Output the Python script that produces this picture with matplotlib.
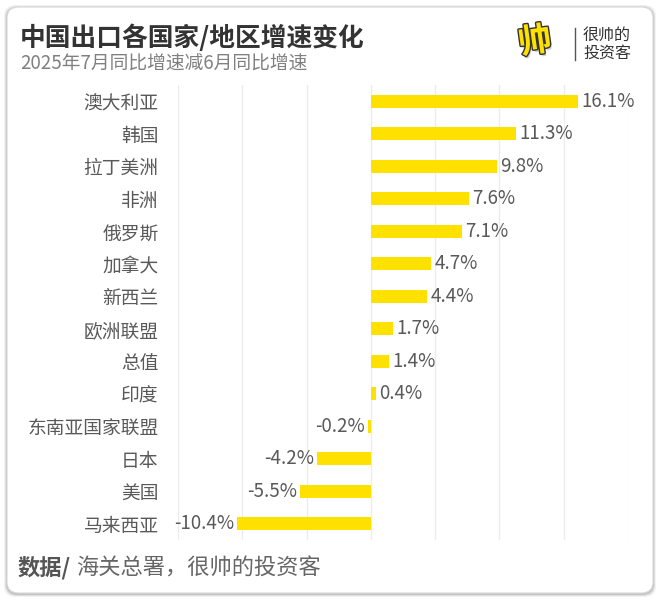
import matplotlib.pyplot as plt
import matplotlib.patheffects as pe
from matplotlib.patches import FancyBboxPatch
from matplotlib.lines import Line2D

plt.rcParams['font.family'] = ['Noto Sans CJK SC', 'DejaVu Sans']

categories = ["澳大利亚", "韩国", "拉丁美洲", "非洲", "俄罗斯", "加拿大", "新西兰",
              "欧洲联盟", "总值", "印度", "东南亚国家联盟", "日本", "美国", "马来西亚"]
values = [16.1, 11.3, 9.8, 7.6, 7.1, 4.7, 4.4, 1.7, 1.4, 0.4, -0.2, -4.2, -5.5, -10.4]
xticks = [-15, -10, -5, 0, 5, 10, 15, 20]

W, H = 660, 601
fig = plt.figure(figsize=(W / 100, H / 100), dpi=100)
fig.patch.set_facecolor("white")

# card with soft shadow
def px_box(x0, y0, x1, y1, **kw):
    return FancyBboxPatch((x0 / W, 1 - y1 / H), (x1 - x0) / W, (y1 - y0) / H,
                          boxstyle="round,pad=0,rounding_size=0.018",
                          transform=fig.transFigure, zorder=-10, **kw)

for i, a in enumerate([0.05, 0.08, 0.12]):
    d = 3 - i
    fig.patches.append(px_box(7 - d, 7 - d + 1, 653 + d, 593 + d + 1,
                              facecolor="#000000", edgecolor="none", alpha=a))
fig.patches.append(px_box(7, 7, 653, 593, facecolor="white", edgecolor="#d9d9d9", lw=0.8))

ax = fig.add_axes([178 / W, 1 - 540 / H, (628 - 178) / W, (540 - 85) / H])
ax.set_zorder(5)
ax.set_facecolor("none")
ypos = list(range(len(categories)))
ax.barh(ypos, values, height=0.4, color="#FFE100", zorder=3)
ax.set_ylim(len(categories) - 0.5, -0.5)
ax.set_xlim(-15, 20)
ax.set_xticks(xticks)
ax.xaxis.grid(True, color="#ebebeb", lw=0.9, zorder=0)
ax.tick_params(axis="x", length=0, labelbottom=False)
ax.set_yticks(ypos)
ax.set_yticklabels(categories, fontsize=13.5, color="#595959")
ax.tick_params(axis="y", length=0, pad=14)
for s in ax.spines.values():
    s.set_visible(False)

for y, v in zip(ypos, values):
    if v >= 0:
        ax.text(v + 0.25, y, f"{v:.1f}%", va="center", ha="left",
                fontsize=13.5, color="#595959", zorder=4)
    else:
        ax.text(v - 0.25, y, f"{v:.1f}%", va="center", ha="right",
                fontsize=13.5, color="#595959", zorder=4)

# titles
fig.text(20 / W, 1 - 38 / H, "中国出口各国家/地区增速变化", fontsize=18.5,
         fontweight="bold", color="#333333", va="center", ha="left")
fig.text(20 / W, 1 - 64 / H, "2025年7月同比增速减6月同比增速", fontsize=13.5,
         color="#808080", va="center", ha="left")

# logo
fig.text(537 / W, 1 - 44 / H, "帅", fontsize=24, fontweight="bold", color="#cccccc",
         va="center", ha="center", rotation=8)
fig.text(535 / W, 1 - 42 / H, "帅", fontsize=24, fontweight="bold", color="#FFE100",
         va="center", ha="center", rotation=8,
         path_effects=[pe.withStroke(linewidth=2, foreground="#333333")])
fig.lines.append(Line2D([575 / W, 575 / W], [1 - 28 / H, 1 - 60 / H],
                        transform=fig.transFigure, color="#555555", lw=1))
fig.text(583 / W, 1 - 35 / H, "很帅的", fontsize=11.5, color="#333333",
         va="center", ha="left")
fig.text(583 / W, 1 - 53 / H, "投资客", fontsize=11.5, color="#333333",
         va="center", ha="left")

# footer
fig.text(18 / W, 1 - 568 / H, "数据/", fontsize=16, fontweight="bold",
         color="#555555", va="center", ha="left")
fig.text(76 / W, 1 - 568 / H, "海关总署，很帅的投资客", fontsize=16,
         color="#666666", va="center", ha="left")

fig.savefig("out.png", dpi=100, facecolor="white")
